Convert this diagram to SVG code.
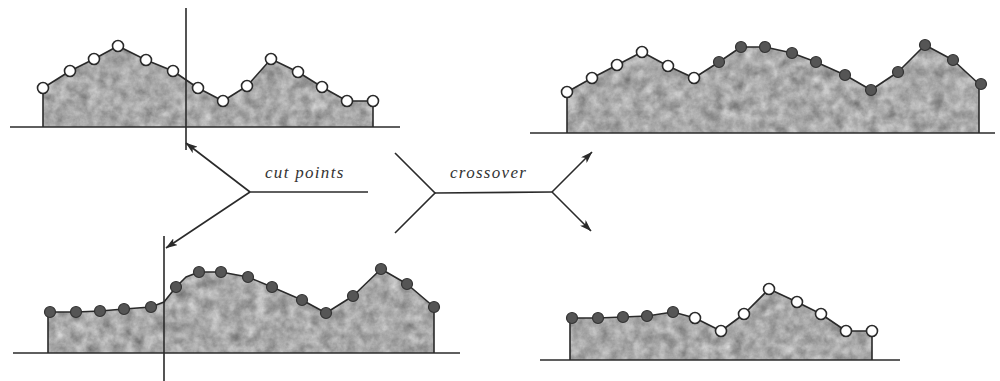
<svg xmlns="http://www.w3.org/2000/svg" width="1000" height="381" viewBox="0 0 1000 381">
<style>
.fill{fill:#9c9c9c;filter:url(#mottle)}
.edge{fill:none;stroke:#2a2a2a;stroke-width:1.6;stroke-linejoin:round}
.base{stroke:#2a2a2a;stroke-width:1.6}
.cut{stroke:#2a2a2a;stroke-width:1.6}
.w{fill:#fff;stroke:#2a2a2a;stroke-width:1.6}
.d{fill:#555;stroke:#333;stroke-width:1.2}
.con{fill:none;stroke:#2a2a2a;stroke-width:1.6}
.lbl{font-family:"Liberation Serif",serif;font-style:italic;font-size:17px;fill:#333;letter-spacing:1.3px}
</style>
<defs>
<filter id="mottle" x="0" y="0" width="1" height="1" color-interpolation-filters="sRGB">
<feTurbulence type="fractalNoise" baseFrequency="0.09" numOctaves="4" seed="4" result="n"/>
<feColorMatrix in="n" type="matrix" values="0.3 0.3 0 0 0.36  0.3 0.3 0 0 0.36  0.3 0.3 0 0 0.36  0 0 0 0 1" result="g"/>
<feComposite in="g" in2="SourceGraphic" operator="in"/>
</filter>
<marker id="ah" viewBox="0 0 12 8" refX="11.5" refY="4" markerWidth="12" markerHeight="8" markerUnits="userSpaceOnUse" orient="auto">
<path d="M0,0 L12,4 L0,8 L3,4 Z" fill="#2a2a2a"/>
</marker>
</defs>

<g id="parent1">
<path class="fill" d="M43,127 L43,88 L70,71 L94,59 L118,46 L146,60 L173,71 L198,88 L223,101 L247,86 L271,59 L298,72 L322,87 L347,101 L373,101 L373,127 Z"/>
<path class="edge" d="M43,127 L43,88 L70,71 L94,59 L118,46 L146,60 L173,71 L198,88 L223,101 L247,86 L271,59 L298,72 L322,87 L347,101 L373,101 L373,127"/>
<line class="base" x1="10" y1="127" x2="400" y2="127"/>
<line class="cut" x1="186" y1="8" x2="186" y2="150"/>
<circle class="w" cx="43" cy="88" r="5.5"/><circle class="w" cx="70" cy="71" r="5.5"/><circle class="w" cx="94" cy="59" r="5.5"/><circle class="w" cx="118" cy="46" r="5.5"/><circle class="w" cx="146" cy="60" r="5.5"/><circle class="w" cx="173" cy="71" r="5.5"/><circle class="w" cx="198" cy="88" r="5.5"/><circle class="w" cx="223" cy="101" r="5.5"/><circle class="w" cx="247" cy="86" r="5.5"/><circle class="w" cx="271" cy="59" r="5.5"/><circle class="w" cx="298" cy="72" r="5.5"/><circle class="w" cx="322" cy="87" r="5.5"/><circle class="w" cx="347" cy="101" r="5.5"/><circle class="w" cx="373" cy="101" r="5.5"/>
</g>

<g id="parent2">
<path class="fill" d="M48,353 L48,312 L76,312 L100,311 L124,309 L151,307 L164,302 L176,287 L186,277 L199,272 L221,272 L248,277 L272,287 L302,300 L326,313 L353,296 L381,269 L407,284 L434,307 L434,353 Z"/>
<path class="edge" d="M48,353 L48,312 L76,312 L100,311 L124,309 L151,307 L164,302 L176,287 L186,277 L199,272 L221,272 L248,277 L272,287 L302,300 L326,313 L353,296 L381,269 L407,284 L434,307 L434,353"/>
<line class="base" x1="13" y1="353" x2="460" y2="353"/>
<line class="cut" x1="164" y1="236" x2="164" y2="381"/>
<circle class="d" cx="50" cy="312" r="5.5"/><circle class="d" cx="76" cy="312" r="5.5"/><circle class="d" cx="100" cy="311" r="5.5"/><circle class="d" cx="124" cy="309" r="5.5"/><circle class="d" cx="151" cy="307" r="5.5"/><circle class="d" cx="176" cy="287" r="5.5"/><circle class="d" cx="199" cy="272" r="5.5"/><circle class="d" cx="221" cy="272" r="5.5"/><circle class="d" cx="248" cy="277" r="5.5"/><circle class="d" cx="272" cy="287" r="5.5"/><circle class="d" cx="302" cy="300" r="5.5"/><circle class="d" cx="326" cy="313" r="5.5"/><circle class="d" cx="353" cy="296" r="5.5"/><circle class="d" cx="381" cy="269" r="5.5"/><circle class="d" cx="407" cy="284" r="5.5"/><circle class="d" cx="434" cy="307" r="5.5"/>
</g>

<g id="child1">
<path class="fill" d="M567,133 L567,92 L592,78 L617,65 L642,52 L668,66 L694,78 L719,62 L741,47 L765,47 L792,53 L816,62 L845,75 L871,90 L898,72 L925,45 L953,60 L979,84 L979,133 Z"/>
<path class="edge" d="M567,133 L567,92 L592,78 L617,65 L642,52 L668,66 L694,78 L719,62 L741,47 L765,47 L792,53 L816,62 L845,75 L871,90 L898,72 L925,45 L953,60 L979,84 L979,133"/>
<line class="base" x1="530" y1="133" x2="995" y2="133"/>
<circle class="w" cx="567" cy="92" r="5.5"/><circle class="w" cx="592" cy="78" r="5.5"/><circle class="w" cx="617" cy="65" r="5.5"/><circle class="w" cx="642" cy="52" r="5.5"/><circle class="w" cx="668" cy="66" r="5.5"/><circle class="w" cx="694" cy="78" r="5.5"/>
<circle class="d" cx="719" cy="62" r="5.5"/><circle class="d" cx="741" cy="47" r="5.5"/><circle class="d" cx="765" cy="47" r="5.5"/><circle class="d" cx="792" cy="53" r="5.5"/><circle class="d" cx="816" cy="62" r="5.5"/><circle class="d" cx="845" cy="75" r="5.5"/><circle class="d" cx="871" cy="90" r="5.5"/><circle class="d" cx="898" cy="72" r="5.5"/><circle class="d" cx="925" cy="45" r="5.5"/><circle class="d" cx="953" cy="60" r="5.5"/><circle class="d" cx="981" cy="84" r="5.5"/>
</g>

<g id="child2">
<path class="fill" d="M570,360 L570,318 L598,318 L623,317 L647,316 L673,312 L695,318 L721,331 L744,314 L769,289 L797,302 L821,314 L846,331 L872,331 L872,360 Z"/>
<path class="edge" d="M570,360 L570,318 L598,318 L623,317 L647,316 L673,312 L695,318 L721,331 L744,314 L769,289 L797,302 L821,314 L846,331 L872,331 L872,360"/>
<line class="base" x1="540" y1="360" x2="900" y2="360"/>
<circle class="d" cx="572" cy="318" r="5.5"/><circle class="d" cx="598" cy="318" r="5.5"/><circle class="d" cx="623" cy="317" r="5.5"/><circle class="d" cx="647" cy="316" r="5.5"/><circle class="d" cx="673" cy="312" r="5.5"/>
<circle class="w" cx="695" cy="318" r="5.5"/><circle class="w" cx="721" cy="331" r="5.5"/><circle class="w" cx="744" cy="314" r="5.5"/><circle class="w" cx="769" cy="289" r="5.5"/><circle class="w" cx="797" cy="302" r="5.5"/><circle class="w" cx="821" cy="314" r="5.5"/><circle class="w" cx="846" cy="331" r="5.5"/><circle class="w" cx="872" cy="331" r="5.5"/>
</g>

<g id="connectors">
<line class="con" x1="368" y1="192" x2="250" y2="192"/>
<line class="con" x1="250" y1="192" x2="186" y2="143" marker-end="url(#ah)"/>
<line class="con" x1="250" y1="192" x2="166" y2="248" marker-end="url(#ah)"/>
<polyline class="con" points="395,153 435,193 395,233"/>
<line class="con" x1="435" y1="193" x2="552" y2="192"/>
<line class="con" x1="552" y1="192" x2="592" y2="152" marker-end="url(#ah)"/>
<line class="con" x1="552" y1="192" x2="591" y2="231" marker-end="url(#ah)"/>
</g>

<g id="labels">
<text class="lbl" x="265" y="178">cut points</text>
<text class="lbl" x="450" y="178">crossover</text>
</g>
</svg>
